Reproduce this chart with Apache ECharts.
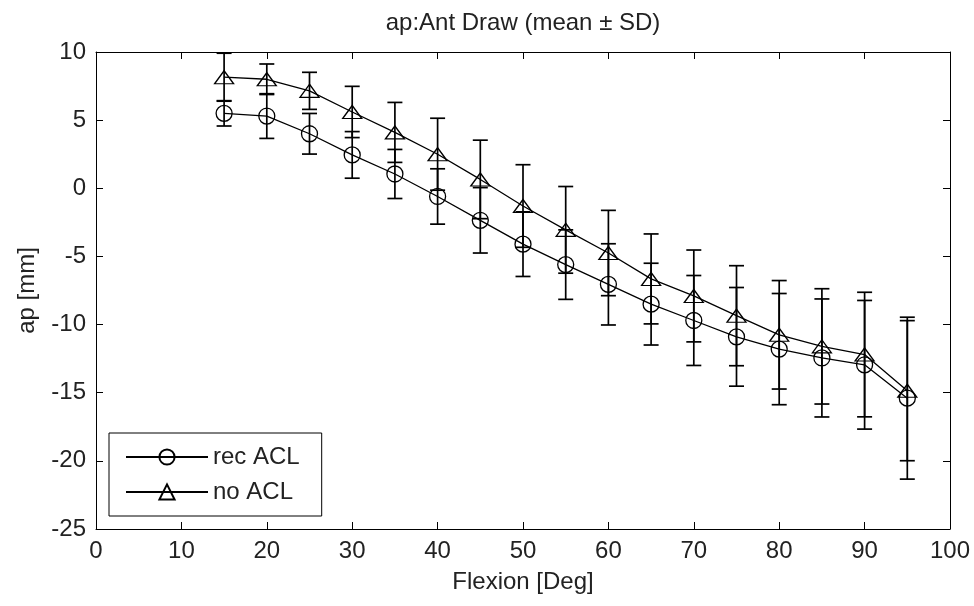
<!DOCTYPE html>
<html>
<head>
<meta charset="utf-8">
<script src="https://cdn.jsdelivr.net/npm/echarts@6/dist/echarts.min.js"></script>
<style>
  html, body { margin: 0; padding: 0; background: #fff; }
  #chart { width: 974px; height: 606px; }
</style>
</head>
<body>
<div id="chart"></div>
<script>
// flexion angles (x) and mean / SD of ap for each group
var flexion = [15, 20, 25, 30, 35, 40, 45, 50, 55, 60, 65, 70, 75, 80, 85, 90, 95];
var recMean = [5.5, 5.3, 4.0, 2.45, 1.05, -0.6, -2.35, -4.1, -5.6, -7.05, -8.5, -9.7, -10.9, -11.8, -12.45, -12.95, -15.4];
var recSD   = [0.93, 1.64, 1.49, 1.71, 1.8, 2.03, 2.4, 2.37, 2.55, 2.98, 3.0, 3.3, 3.62, 4.08, 4.33, 4.72, 5.94];
var noMean  = [8.15, 8.0, 7.15, 5.6, 4.1, 2.5, 0.65, -1.3, -3.05, -4.75, -6.65, -7.9, -9.35, -10.75, -11.6, -12.2, -14.85];
var noSD    = [1.76, 1.12, 1.36, 1.88, 2.2, 2.64, 2.88, 3.03, 3.18, 3.13, 3.3, 3.37, 3.67, 3.98, 4.23, 4.57, 5.14];
var seriesNames = ["rec ACL", "no ACL"];

var font = "Liberation Sans, Arial, sans-serif";
var txt = "#222";

var chart = echarts.init(document.getElementById("chart"));

function points(mean) {
  return flexion.map(function (x, i) { return [x, mean[i]]; });
}
function errData(mean, sd) {
  return flexion.map(function (x, i) { return [x, mean[i] - sd[i], mean[i] + sd[i]]; });
}
// vertical bar with caps
function renderErr(params, api) {
  var x = api.value(0);
  var lo = api.coord([x, api.value(1)]);
  var hi = api.coord([x, api.value(2)]);
  var w = 7.5;
  var st = { stroke: "#000", lineWidth: 1.7 };
  return {
    type: "group",
    children: [
      { type: "line", shape: { x1: lo[0], y1: lo[1], x2: hi[0], y2: hi[1] }, style: st },
      { type: "line", shape: { x1: lo[0] - w, y1: lo[1], x2: lo[0] + w, y2: lo[1] }, style: st },
      { type: "line", shape: { x1: hi[0] - w, y1: hi[1], x2: hi[0] + w, y2: hi[1] }, style: st }
    ]
  };
}

var axisLine = { show: true, onZero: false, lineStyle: { color: "#000", width: 1 } };
var axisTick = { show: true, inside: true, length: 7, lineStyle: { color: "#000" } };

chart.setOption({
  animation: false,
  backgroundColor: "#fff",
  title: {
    text: "ap:Ant Draw (mean ± SD)",
    left: 518,
    top: 6,
    textAlign: "center",
    textStyle: { fontFamily: font, fontSize: 24, fontWeight: "normal", color: txt }
  },
  grid: { left: 96, right: 24, top: 52, bottom: 77 },
  legend: {
    data: seriesNames,
    orient: "vertical",
    left: 109,
    top: 433,
    padding: [12, 22, 12, 16],
    itemWidth: 82,
    itemHeight: 19,
    itemGap: 11,
    backgroundColor: "#fff",
    borderColor: "#000",
    borderWidth: 1,
    borderRadius: 0,
    textStyle: { fontFamily: font, fontSize: 24, color: txt }
  },
  xAxis: [
    {
      type: "value", min: 0, max: 100, interval: 10, position: "bottom",
      axisLine: axisLine, axisTick: axisTick, splitLine: { show: false },
      axisLabel: { fontFamily: font, fontSize: 24, color: txt, margin: 10 },
      name: "Flexion [Deg]", nameLocation: "middle", nameGap: 41,
      nameTextStyle: { fontFamily: font, fontSize: 24, color: txt }
    },
    {
      type: "value", min: 0, max: 100, interval: 10, position: "top",
      axisLine: axisLine, axisTick: axisTick, splitLine: { show: false },
      axisLabel: { show: false }
    }
  ],
  yAxis: [
    {
      type: "value", min: -25, max: 10, interval: 5, position: "left",
      axisLine: axisLine, axisTick: axisTick, splitLine: { show: false },
      axisLabel: { fontFamily: font, fontSize: 24, color: txt, margin: 10 },
      name: "ap [mm]", nameLocation: "middle", nameGap: 57,
      nameTextStyle: { fontFamily: font, fontSize: 24, color: txt }
    },
    {
      type: "value", min: -25, max: 10, interval: 5, position: "right",
      axisLine: axisLine, axisTick: axisTick, splitLine: { show: false },
      axisLabel: { show: false }
    }
  ],
  series: [
    {
      name: "rec ACL", type: "line", data: points(recMean),
      symbol: "circle", symbolSize: 16,
      itemStyle: { color: "rgba(0,0,0,0)", borderColor: "#000", borderWidth: 1.3 },
      lineStyle: { color: "#000", width: 1.3 },
      z: 4
    },
    {
      name: "no ACL", type: "line", data: points(noMean),
      symbol: "triangle", symbolSize: [19, 13],
      itemStyle: { color: "rgba(0,0,0,0)", borderColor: "#000", borderWidth: 1.3 },
      lineStyle: { color: "#000", width: 1.3 },
      z: 4
    },
    {
      type: "custom", renderItem: renderErr, data: errData(recMean, recSD),
      encode: { x: 0, y: [1, 2] }, z: 3, silent: true
    },
    {
      type: "custom", renderItem: renderErr, data: errData(noMean, noSD),
      encode: { x: 0, y: [1, 2] }, z: 3, silent: true
    }
  ]
});
</script>
</body>
</html>
